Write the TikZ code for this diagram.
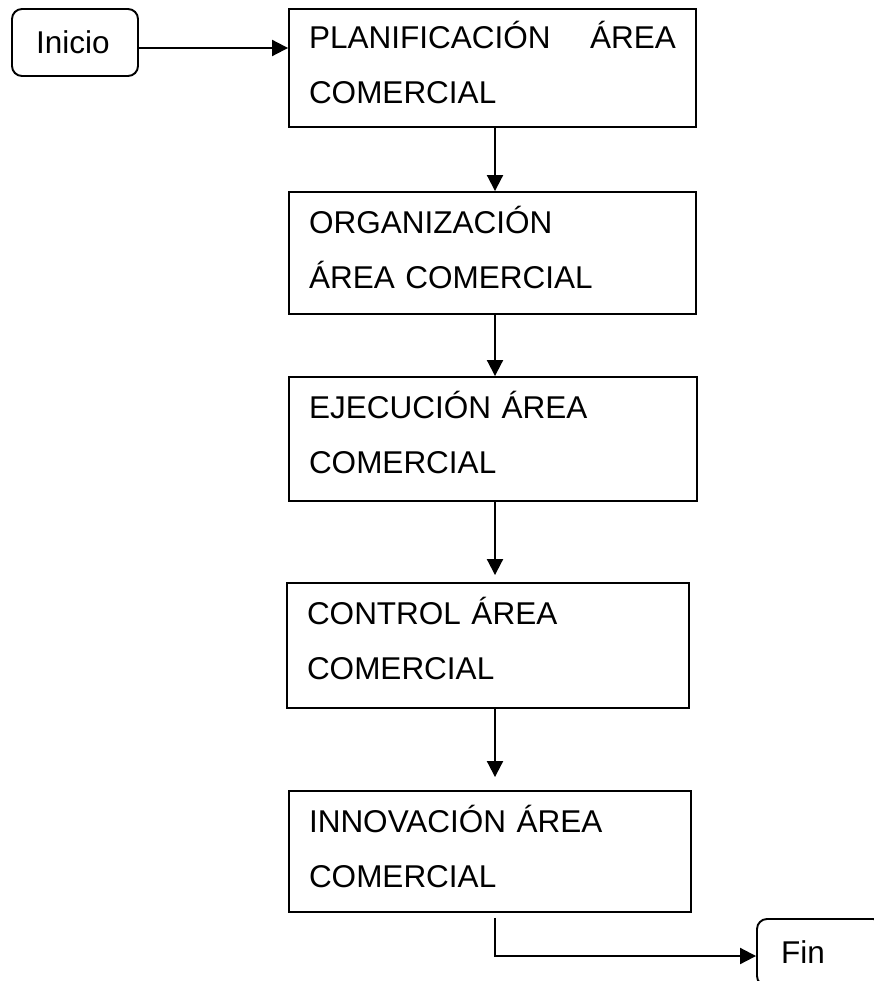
\documentclass[tikz,border=0pt]{standalone}
\usepackage{fontspec}
\setmainfont{Liberation Sans}
\usetikzlibrary{arrows.meta}
\begin{document}
\begin{tikzpicture}[x=1pt,y=-1pt,
  every node/.style={font=\fontsize{31.5}{55}\selectfont},
  proc/.style={draw, line width=1.9pt, rectangle, inner xsep=20pt, inner ysep=0pt, align=left},
  term/.style={draw, line width=1.9pt, rounded corners=10pt, minimum width=126pt, minimum height=67pt, inner xsep=24pt, inner ysep=0pt, text width=78pt, align=left},
  arr/.style={line width=2pt, -{Triangle[length=16pt,width=16pt]}}]
\useasboundingbox (0,0) rectangle (874,981);
\clip (0,0) rectangle (874,981);
\fill[white] (0,0) rectangle (874,981);

\node[term] (inicio) at (75,42.5) {Inicio};
\node[proc, minimum width=407pt, minimum height=118pt, text width=367pt] (b1) at (492.5,68)
  {\strut PLANIFICACIÓN\hfill ÁREA\\COMERCIAL\strut\rule[-23pt]{0pt}{0pt}};
\node[proc, minimum width=407pt, minimum height=122pt, text width=367pt] (b2) at (492.5,253)
  {\strut ORGANIZACIÓN\\ÁREA COMERCIAL\strut\rule[-23pt]{0pt}{0pt}};
\node[proc, minimum width=408pt, minimum height=124pt, text width=368pt] (b3) at (493,439)
  {\strut EJECUCIÓN ÁREA\\COMERCIAL\strut\rule[-24pt]{0pt}{0pt}};
\node[proc, minimum width=402pt, minimum height=125pt, text width=362pt] (b4) at (488,645.5)
  {\strut CONTROL ÁREA\\COMERCIAL\strut\rule[-26pt]{0pt}{0pt}};
\node[proc, minimum width=402pt, minimum height=121pt, text width=362pt] (b5) at (490,851.5)
  {\strut INNOVACIÓN ÁREA\\COMERCIAL\strut\rule[-22pt]{0pt}{0pt}};
\node[term] (fin) at (820,952.5) {Fin};

\coordinate (ax) at (495,0);
\draw[arr] ([yshift=-5.5pt]inicio.east) -- ([yshift=-5.5pt]inicio.east -| b1.west);
\draw[arr] (b1.south -| ax) -- (b2.north -| ax);
\draw[arr] (b2.south -| ax) -- (b3.north -| ax);
\draw[arr, shorten >=7pt] (b3.south -| ax) -- (b4.north -| ax);
\draw[arr, shorten >=13pt] (b4.south -| ax) -- (b5.north -| ax);
\draw[arr, shorten <=5pt] (b5.south -| ax) |- ([yshift=-3.5pt]fin.west);
\end{tikzpicture}
\end{document}
